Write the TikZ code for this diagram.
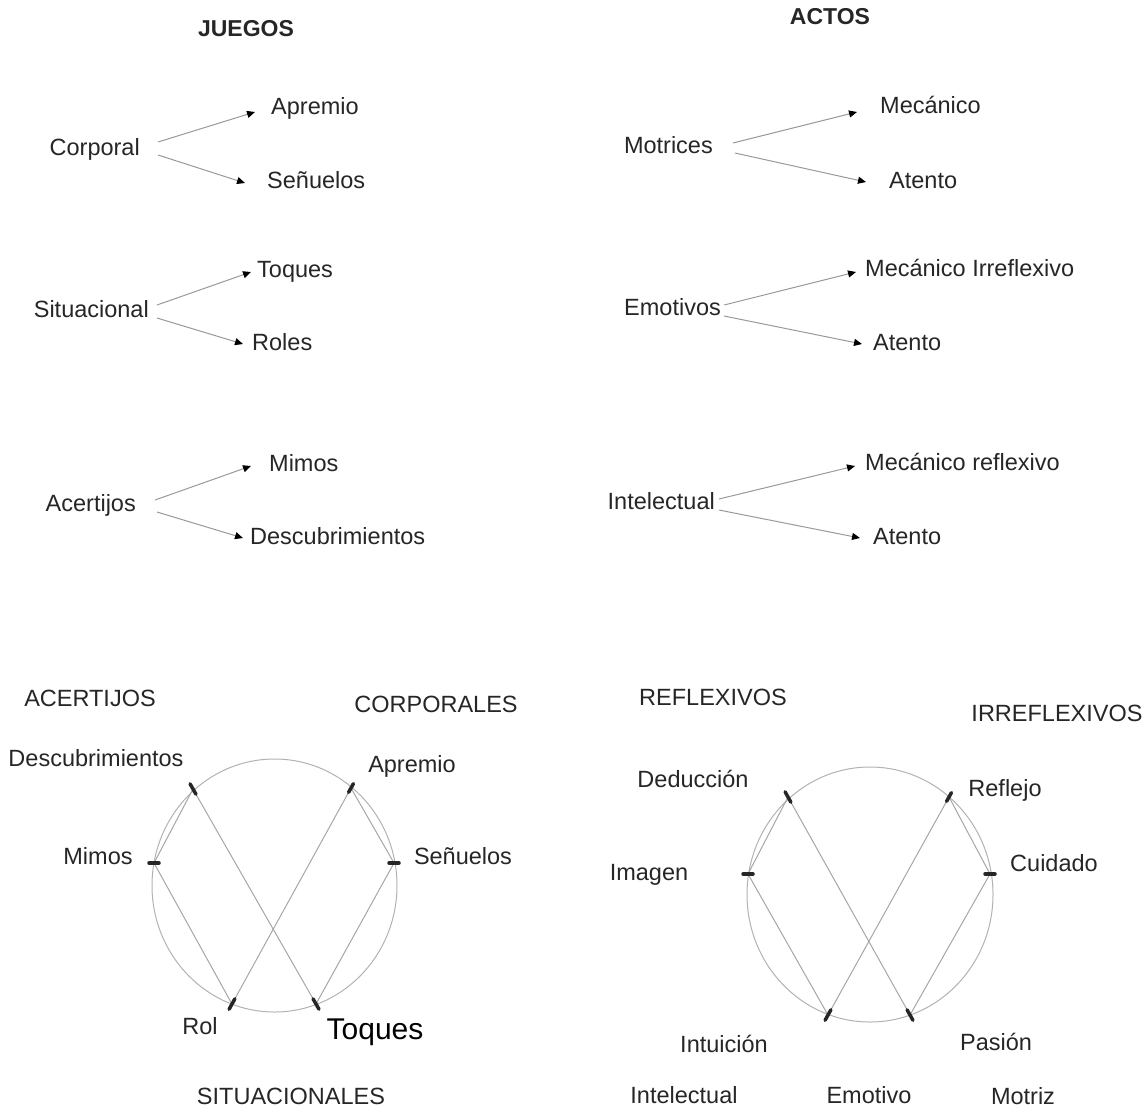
\documentclass[tikz,border=0pt]{standalone}
\usepackage{fontspec}
\setmainfont{Liberation Sans}
\usepackage{xcolor}
\usepackage{tikz}
\usetikzlibrary{arrows.meta}
\usetikzlibrary{calc}

\begin{document}
\begin{tikzpicture}[x=1pt,y=-1pt,
  every node/.style={font=\fontsize{23.5}{28}\selectfont,text=black!85,inner sep=0pt,text height=17pt,text depth=5pt},
  head/.style={font=\fontsize{23}{28}\selectfont\bfseries},
  arr/.style={draw=black!40,line width=1pt,-{Triangle[length=8pt,width=7pt,color=black,fill=black]}},
  chord/.style={draw=black!35,line width=1pt},
  ring/.style={draw=black!30,line width=1pt},
  tick/.style={draw=black!85,line width=3.5pt,line cap=round}]
\useasboundingbox (0,0) rectangle (1148,1109);
%% titulos
\node[head] (juegos) at (246,30) {JUEGOS};
\node[head] (actos) at (830,18) {ACTOS};
%% juegos
\node[anchor=east] (corp) at (140,149) {Corporal};
\node[anchor=west] (apr) at (271,108) {Apremio};
\node[anchor=west] (sen) at (267,182) {Señuelos};
\draw[arr] ([shift={(18,-7)}]corp.east) -- ([shift={(-16,4)}]apr.west);
\draw[arr] ([shift={(18,6)}]corp.east) -- ([shift={(-22,1)}]sen.west);
\node[anchor=east] (sit) at (149,311) {Situacional};
\node[anchor=west] (toq) at (257,271) {Toques};
\node[anchor=west] (rls) at (252,344) {Roles};
\draw[arr] ([shift={(8,-6)}]sit.east) -- ([shift={(-6,1)}]toq.west);
\draw[arr] ([shift={(8,7)}]sit.east) -- ([shift={(-9,0)}]rls.west);
\node[anchor=east] (ace) at (136,505) {Acertijos};
\node[anchor=west] (mim) at (269,465) {Mimos};
\node[anchor=west] (des) at (250,538) {Descubrimientos};
\draw[arr] ([shift={(19,-5)}]ace.east) -- ([shift={(-18,1)}]mim.west);
\draw[arr] ([shift={(21,7)}]ace.east) -- ([shift={(-7,0)}]des.west);
%% actos
\node[anchor=east] (mot) at (713,147) {Motrices};
\node[anchor=west] (mec) at (880,107) {Mecánico};
\node[anchor=west] (ate) at (889,182) {Atento};
\draw[arr] ([shift={(20,-4)}]mot.east) -- ([shift={(-23,5)}]mec.west);
\draw[arr] ([shift={(22,6)}]mot.east) -- ([shift={(-23,0)}]ate.west);
\node[anchor=west] (emo) at (624,309) {Emotivos};
\node[anchor=west] (mir) at (865,270) {Mecánico Irreflexivo};
\node[anchor=west] (ateb) at (873,344) {Atento};
\draw[arr] ([shift={(3,-4)}]emo.east) -- ([shift={(-9,2)}]mir.west);
\draw[arr] ([shift={(3,7)}]emo.east) -- ([shift={(-11,0)}]ateb.west);
\node[anchor=east] (itl) at (715,503) {Intelectual};
\node[anchor=west] (mre) at (865,464) {Mecánico reflexivo};
\node[anchor=west] (atec) at (873,538) {Atento};
\draw[arr] ([shift={(4,-4)}]itl.east) -- ([shift={(-10,2)}]mre.west);
\draw[arr] ([shift={(4,7)}]itl.east) -- ([shift={(-13,0)}]atec.west);
%% circulo juegos
\draw[ring] (274.5,885.5) ellipse (122.5 and 126.5);
\coordinate (dsc) at (193,789);
\coordinate (apm) at (351,788);
\coordinate (mms) at (154,863);
\coordinate (snl) at (394,863);
\coordinate (rl) at (232,1004);
\coordinate (tq) at (316,1004);
\draw[chord] (dsc) -- (tq);
\draw[chord] (apm) -- (rl);
\draw[chord] (mms) -- (rl);
\draw[chord] (snl) -- (tq);
\draw[chord] (dsc) -- (mms);
\draw[chord] (apm) -- (snl);
\draw[tick] ($(dsc)!-6pt!(tq)$) -- ($(dsc)!6pt!(tq)$);
\draw[tick] ($(tq)!-6pt!(dsc)$) -- ($(tq)!6pt!(dsc)$);
\draw[tick] ($(apm)!-5pt!(rl)$) -- ($(apm)!5pt!(rl)$);
\draw[tick] ($(rl)!-6pt!(apm)$) -- ($(rl)!6pt!(apm)$);
\draw[tick] ([xshift=-5pt]mms) -- ([xshift=5pt]mms);
\draw[tick] ([xshift=-5pt]snl) -- ([xshift=5pt]snl);
\node (acer) at (90,700) {ACERTIJOS};
\node (corps) at (436,706) {CORPORALES};
\node (ldes) at (96,760) {Descubrimientos};
\node (lapr) at (412,766) {Apremio};
\node (lmim) at (98,858) {Mimos};
\node (lsen) at (463,858) {Señuelos};
\node (lrol) at (200,1028) {Rol};
\node[font=\fontsize{30}{34}\selectfont,text=black] (ltoq) at (375,1033) {Toques};
\node (situ) at (291,1098) {SITUACIONALES};
%% circulo actos
\draw[ring] (870,894.5) ellipse (123 and 127.5);
\coordinate (ded) at (788,797);
\coordinate (rfl) at (949,797);
\coordinate (img) at (748,874);
\coordinate (cui) at (990,874);
\coordinate (itu) at (828,1015);
\coordinate (pas) at (910,1015);
\draw[chord] (ded) -- (pas);
\draw[chord] (rfl) -- (itu);
\draw[chord] (img) -- (itu);
\draw[chord] (cui) -- (pas);
\draw[chord] (ded) -- (img);
\draw[chord] (rfl) -- (cui);
\draw[tick] ($(ded)!-6pt!(pas)$) -- ($(ded)!6pt!(pas)$);
\draw[tick] ($(pas)!-6pt!(ded)$) -- ($(pas)!6pt!(ded)$);
\draw[tick] ($(rfl)!-5pt!(itu)$) -- ($(rfl)!5pt!(itu)$);
\draw[tick] ($(itu)!-6pt!(rfl)$) -- ($(itu)!6pt!(rfl)$);
\draw[tick] ([xshift=-5pt]img) -- ([xshift=5pt]img);
\draw[tick] ([xshift=-5pt]cui) -- ([xshift=5pt]cui);
\node (refl) at (713,699) {REFLEXIVOS};
\node (irre) at (1057,715) {IRREFLEXIVOS};
\node (lded) at (693,781) {Deducción};
\node (lrfl) at (1005,790) {Reflejo};
\node (limg) at (649,874) {Imagen};
\node (lcui) at (1054,865) {Cuidado};
\node (litu) at (724,1046) {Intuición};
\node (lpas) at (996,1044) {Pasión};
\node (lint) at (684,1097) {Intelectual};
\node (lemo) at (869,1097) {Emotivo};
\node (lmot) at (1023,1098) {Motriz};
\end{tikzpicture}
\end{document}
